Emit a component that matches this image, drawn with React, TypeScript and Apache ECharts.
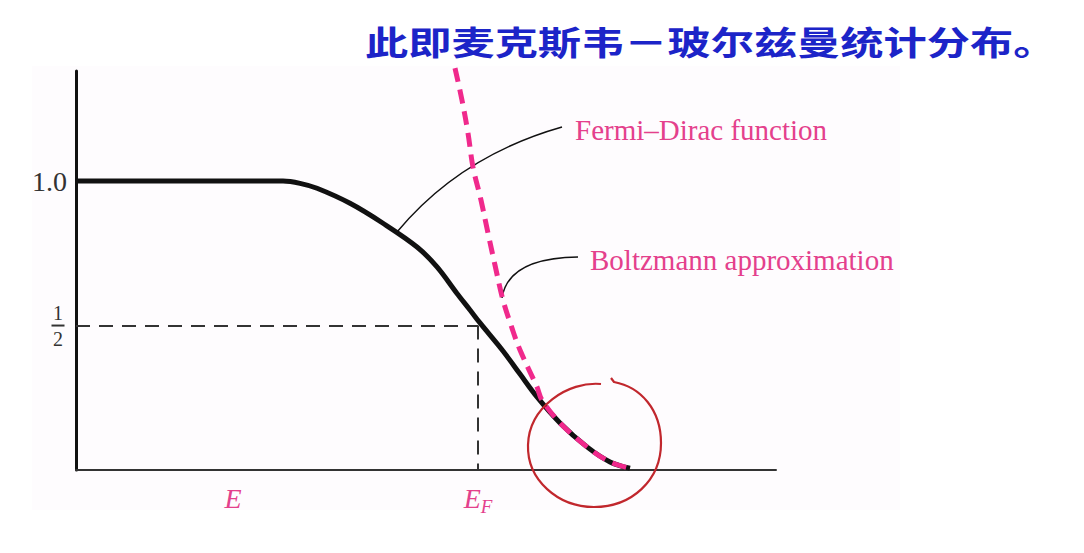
import React, { useEffect, useRef } from 'react';
import * as echarts from 'echarts';

// Fermi–Dirac curve (energy in arbitrary units, occupancy)
const fdEnergy = [0, 1.74, 2.07, 2.24, 2.41, 2.74, 3.07, 3.41, 3.61, 3.81, 3.94, 4.04, 4.27, 4.44, 4.61, 4.84, 5.11, 5.34, 5.54];
const fdValue = [1.0, 1.0, 1.0, 0.992, 0.975, 0.923, 0.854, 0.772, 0.703, 0.611, 0.554, 0.509, 0.412, 0.332, 0.253, 0.163, 0.08, 0.028, 0.006];

// Boltzmann approximation
const bzEnergy = [3.79, 3.86, 3.92, 3.97, 4.05, 4.12, 4.19, 4.27, 4.36, 4.44, 4.61, 4.66, 4.84, 5.11, 5.34, 5.54];
const bzValue = [1.391, 1.28, 1.166, 1.048, 0.934, 0.82, 0.709, 0.588, 0.491, 0.415, 0.287, 0.242, 0.163, 0.08, 0.028, 0.006];

const fermiLevel = 4.02;
const halfLevel = 0.5;
const xTickValues = [1.57, 4.02];
const xTickLabels = ['{e|E}', '{e|E}{f|F}'];

const titleText = '此即麦克斯韦－玻尔兹曼统计分布。';
const fdLabel = 'Fermi–Dirac function';
const bzLabel = 'Boltzmann approximation';

const PINK_TEXT = '#e4408c';
const PINK_LINE = '#f0298c';
const SERIF = '"Liberation Serif", "Times New Roman", serif';

export default function App() {
  const ref = useRef<HTMLDivElement>(null);
  useEffect(() => {
    if (!ref.current) return;
    echarts.graphic.registerShape(
      'redCircle',
      echarts.graphic.extendPath(
        'M 601 384 C 568 381, 529 407, 528 445 C 527 480, 558 507, 594 507 C 632 507, 661 480, 661 443 C 661 410, 641 387, 614 382 L 611 378',
        {}
      )
    );
    const chart = echarts.init(ref.current, null, { renderer: 'svg' });
    chart.setOption({
      animation: false,
      backgroundColor: '#ffffff',
      grid: { left: 76, top: 71, width: 700, height: 399 },
      xAxis: {
        type: 'value',
        min: 0,
        max: 7,
        splitLine: { show: false },
        axisTick: { show: false },
        axisLine: { show: true, lineStyle: { color: '#333', width: 2 } },
        axisLabel: {
          customValues: xTickValues,
          margin: 10,
          formatter: (v: number) => {
            const i = xTickValues.findIndex((t) => Math.abs(t - v) < 1e-6);
            return i >= 0 ? xTickLabels[i] : '';
          },
          rich: {
            e: { fontFamily: SERIF, fontStyle: 'italic', fontSize: 28, color: PINK_TEXT, lineHeight: 36, verticalAlign: 'middle' },
            f: { fontFamily: SERIF, fontStyle: 'italic', fontSize: 19, color: PINK_TEXT, lineHeight: 36, verticalAlign: 'bottom' },
          },
        },
      },
      yAxis: {
        type: 'value',
        min: 0,
        max: 1.381,
        interval: 0.5,
        splitLine: { show: false },
        axisTick: { show: false },
        axisLine: { show: true, lineStyle: { color: '#111', width: 3 } },
        axisLabel: {
          margin: 9,
          formatter: (v: number) => {
            if (Math.abs(v - 1) < 1e-6) return '{n|1.0}';
            if (Math.abs(v - 0.5) < 1e-6) return '{a|1}\n{b|}\n{c|2}';
            return '';
          },
          rich: {
            n: { fontFamily: SERIF, fontSize: 28, color: '#333' },
            a: { fontFamily: SERIF, fontSize: 20, color: '#333', width: 18, align: 'center', lineHeight: 20 },
            b: { width: 13, height: 2, backgroundColor: '#333', lineHeight: 6, align: 'center' },
            c: { fontFamily: SERIF, fontSize: 20, color: '#333', width: 18, align: 'center', lineHeight: 20 },
          },
        },
      },
      series: [
        {
          name: 'Fermi–Dirac',
          type: 'line',
          data: fdEnergy.map((e, i) => [e, fdValue[i]]),
          showSymbol: false,
          smooth: 0.35,
          z: 3,
          lineStyle: { color: '#111', width: 5 },
          markLine: {
            silent: true,
            symbol: ['none', 'none'],
            label: { show: false },
            lineStyle: { color: '#333', width: 2, type: [14, 9] },
            data: [
              [{ coord: [0, halfLevel] }, { coord: [fermiLevel, halfLevel] }],
              [{ coord: [fermiLevel, halfLevel] }, { coord: [fermiLevel, 0] }],
            ],
          },
        },
        {
          name: 'Boltzmann',
          type: 'line',
          data: bzEnergy.map((e, i) => [e, bzValue[i]]),
          showSymbol: false,
          smooth: 0.35,
          clip: false,
          z: 4,
          lineStyle: { color: PINK_LINE, width: 5, type: [14, 8] },
        },
      ],
      graphic: [
        {
          type: 'rect',
          z: -10,
          silent: true,
          shape: { x: 32, y: 66, width: 868, height: 444 },
          style: { fill: '#fefcfe' },
        },
        {
          type: 'text',
          x: 365,
          y: 40,
          scaleX: 1.31,
          style: {
            text: titleText,
            fontFamily: '"Noto Sans CJK SC", sans-serif',
            fontWeight: 'bold',
            fontSize: 33,
            fill: '#1c24c8',
            verticalAlign: 'middle',
            align: 'left',
          },
        },
        {
          type: 'bezierCurve',
          shape: { x1: 397, y1: 232, cpx1: 460, cpy1: 156, x2: 562, y2: 127 },
          style: { stroke: '#111', lineWidth: 1.5, fill: 'none' },
        },
        {
          type: 'bezierCurve',
          shape: { x1: 502, y1: 298, cpx1: 508, cpy1: 258, x2: 578, y2: 257 },
          style: { stroke: '#111', lineWidth: 1.5, fill: 'none' },
        },
        {
          type: 'text',
          x: 575,
          y: 130,
          style: { text: fdLabel, fontFamily: SERIF, fontSize: 29, fill: PINK_TEXT, verticalAlign: 'middle' },
        },
        {
          type: 'text',
          x: 590,
          y: 260,
          style: { text: bzLabel, fontFamily: SERIF, fontSize: 29, fill: PINK_TEXT, verticalAlign: 'middle' },
        },
        {
          type: 'redCircle',
          x: 0,
          y: 0,
          z: 10,
          style: { stroke: '#c1272d', lineWidth: 2.2, fill: 'none' },
        },
      ],
    });
    return () => chart.dispose();
  }, []);
  return <div ref={ref} style={{ position: 'absolute', left: 0, top: 0, width: 1084, height: 553 }} />;
}
